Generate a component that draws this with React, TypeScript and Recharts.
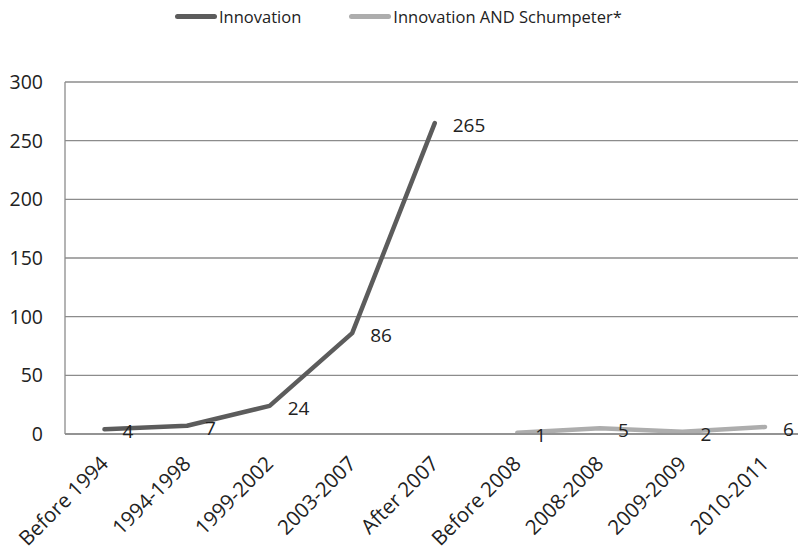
import { LineChart, Line, XAxis, YAxis, CartesianGrid, Legend, LabelList } from 'recharts';

const categories = [
  'Before 1994',
  '1994-1998',
  '1999-2002',
  '2003-2007',
  'After 2007',
  'Before 2008',
  '2008-2008',
  '2009-2009',
  '2010-2011',
];
const innovation = [4, 7, 24, 86, 265, null, null, null, null];
const schumpeter = [null, null, null, null, null, 1, 5, 2, 6];
const yTicks = [0, 50, 100, 150, 200, 250, 300];

const FONT = '"Open Sans", "Noto Sans", sans-serif';
const TEXT = '#222';
const DARK = '#5c5c5c';
const LIGHT = '#adadad';
const GRID = '#8c8c8c';

const data = categories.map((name, i) => ({
  name,
  innovation: innovation[i],
  schumpeter: schumpeter[i],
}));

const legendItems = [
  { label: 'Innovation', color: DARK },
  { label: 'Innovation AND Schumpeter*', color: LIGHT },
];

function ChartLegend() {
  return (
    <div style={{ height: 82, boxSizing: 'border-box', paddingTop: 5, paddingLeft: 175, display: 'flex', alignItems: 'flex-start', gap: 48 }}>
      {legendItems.map(item => (
        <div key={item.label} style={{ display: 'flex', alignItems: 'center', fontFamily: FONT, fontSize: 16.5, color: TEXT }}>
          <span style={{ display: 'inline-block', width: 42, height: 5, borderRadius: 3, background: item.color, marginRight: 2 }} />
          {item.label}
        </div>
      ))}
    </div>
  );
}

function CategoryTick(props: any) {
  const { x, y, payload } = props;
  const ax = x + 5;
  const ay = y + 31;
  return (
    <text x={ax} y={ay} transform={`rotate(-45, ${ax}, ${ay})`} textAnchor="end" fontFamily={FONT} fontSize={20.5} fill={TEXT}>
      {payload.value}
    </text>
  );
}

function PointLabel(props: any) {
  const { x, y, value } = props;
  if (value == null) return null;
  return (
    <text x={x + 18} y={y + 9} textAnchor="start" fontFamily={FONT} fontSize={19} fill={TEXT}>
      {value}
    </text>
  );
}

export default function App() {
  return (
    <div style={{ position: 'absolute', left: 0, top: 0, width: 798, height: 550, background: '#fff' }}>
      <LineChart width={798} height={550} data={data} margin={{ top: 0, right: 0, left: 0, bottom: 0 }}>
        <CartesianGrid vertical={false} stroke={GRID} strokeWidth={1.3} />
        <XAxis
          dataKey="name"
          interval={0}
          height={116}
          padding={{ left: 39.5, right: 33 }}
          axisLine={{ stroke: GRID, strokeWidth: 1.3 }}
          tickLine={false}
          tickSize={0}
          tickMargin={0}
          tick={<CategoryTick />}
        />
        <YAxis
          width={65}
          domain={[0, 300]}
          ticks={yTicks}
          interval={0}
          axisLine={{ stroke: GRID, strokeWidth: 1.3 }}
          tickLine={false}
          tickSize={0}
          tickMargin={22}
          tick={{ fontFamily: FONT, fontSize: 19.5, fill: TEXT }}
        />
        <Legend verticalAlign="top" align="left" content={<ChartLegend />} />
        <Line
          type="linear"
          dataKey="innovation"
          name="Innovation"
          stroke={DARK}
          strokeWidth={4.5}
          strokeLinecap="round"
          strokeLinejoin="round"
          dot={false}
          activeDot={false}
          isAnimationActive={false}
        >
          <LabelList dataKey="innovation" content={<PointLabel />} />
        </Line>
        <Line
          type="linear"
          dataKey="schumpeter"
          name="Innovation AND Schumpeter*"
          stroke={LIGHT}
          strokeWidth={4.5}
          strokeLinecap="round"
          strokeLinejoin="round"
          dot={false}
          activeDot={false}
          isAnimationActive={false}
        >
          <LabelList dataKey="schumpeter" content={<PointLabel />} />
        </Line>
      </LineChart>
    </div>
  );
}
